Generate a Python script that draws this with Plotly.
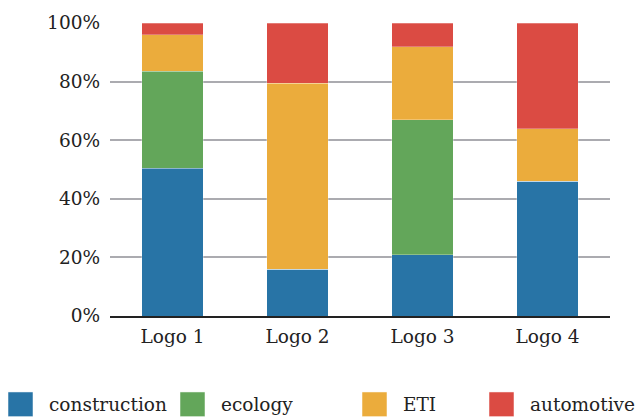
import plotly.graph_objects as go

categories = ["Logo 1", "Logo 2", "Logo 3", "Logo 4"]
construction = [50.4, 16.0, 20.9, 46.0]
ecology = [33.1, 0.0, 46.0, 0.0]
eti = [12.5, 63.5, 25.0, 17.9]
automotive = [4.0, 20.5, 8.1, 36.1]
series_names = ["construction", "ecology", "ETI", "automotive"]
series_values = [construction, ecology, eti, automotive]
colors = ["#2874A6", "#63A65A", "#EBAC3C", "#DB4B43"]
y_ticks = [0, 20, 40, 60, 80, 100]
y_tick_labels = ["0%", "20%", "40%", "60%", "80%", "100%"]

FONT = "DejaVu Serif"
FS = 18.5

fig = go.Figure()
for name, vals, col in zip(series_names, series_values, colors):
    fig.add_trace(go.Bar(
        x=categories, y=vals, name=name,
        marker=dict(color=col, line=dict(width=0.6, color="rgba(255,255,255,0.45)")),
        showlegend=False,
    ))

fig.update_layout(
    barmode="stack",
    bargap=0.505,
    width=638, height=419,
    margin=dict(l=110, r=28, t=19, b=103, pad=0),
    plot_bgcolor="white", paper_bgcolor="white",
    font=dict(family=FONT, size=FS, color="#222"),
    xaxis=dict(showgrid=False, showline=True, linecolor="#222", linewidth=2,
               ticks="", tickfont=dict(family=FONT, size=FS, color="#222"),
               ticklabelstandoff=3),
    yaxis=dict(range=[0, 100], tickmode="array", tickvals=y_ticks, ticktext=y_tick_labels,
               showgrid=True, gridcolor="#ABABB0", gridwidth=2.2,
               zeroline=False, showline=False, ticks="",
               tickfont=dict(family=FONT, size=FS, color="#222"), ticklabelstandoff=9),
)

# custom legend below the chart
legend_x = [8, 180, 362, 489]
sq = 25
y_top = 393
for name, col, lx in zip(series_names, colors, legend_x):
    x0 = (lx - 110) / 500.0
    x1 = (lx + sq - 110) / 500.0
    fig.add_shape(type="rect", xref="paper", yref="paper",
                  x0=x0, x1=x1,
                  y0=(316 - (y_top + sq)) / 297.0, y1=(316 - y_top) / 297.0,
                  fillcolor=col, line=dict(width=1, color="rgba(255,255,255,0.5)"))
    fig.add_annotation(xref="paper", yref="paper",
                       x=(lx + sq + 14 - 110) / 500.0, y=(316 - (y_top + sq / 2)) / 297.0,
                       text=name, showarrow=False, xanchor="left", yanchor="middle",
                       font=dict(family=FONT, size=FS, color="#222"))

fig.write_html("out.html", config={"displayModeBar": False},
               post_script="document.body.style.margin='0';document.body.style.padding='0';")
